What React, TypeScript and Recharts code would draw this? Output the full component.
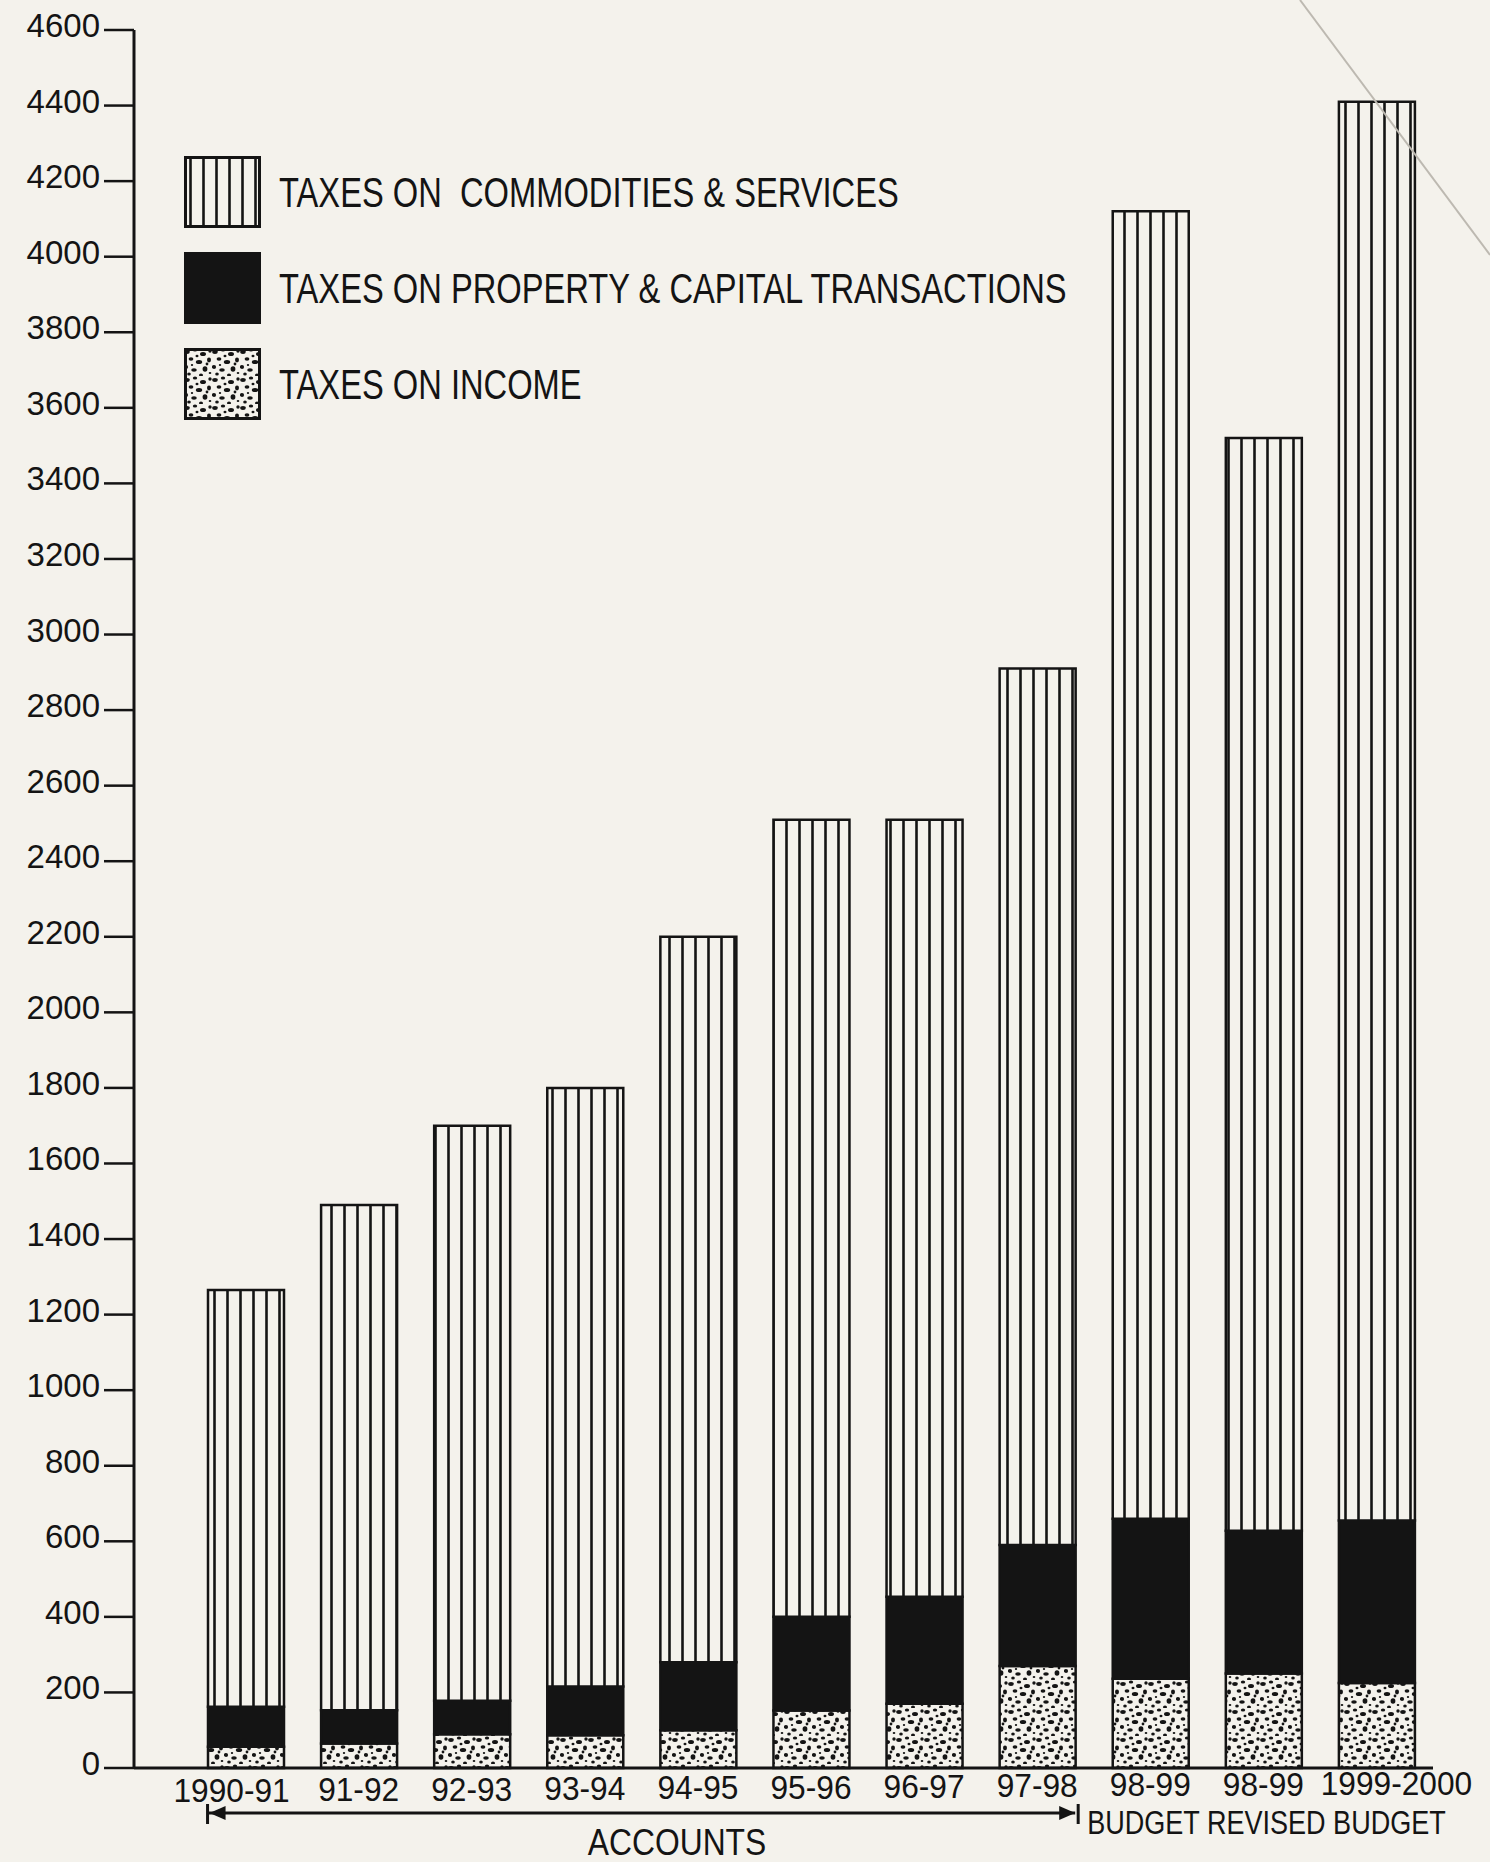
import { BarChart, Bar, XAxis, YAxis, Legend } from "recharts";

// Tax revenue by head (Rs. crore)
const categories = ["1990-91", "91-92", "92-93", "93-94", "94-95", "95-96", "96-97", "97-98", "98-99 BE", "98-99 RE", "1999-2000"];
const tickLabels = ["1990-91", "91-92", "92-93", "93-94", "94-95", "95-96", "96-97", "97-98", "98-99", "98-99", "1999-2000"];
const incomeTax = [56, 65, 89, 87, 100, 152, 170, 270, 236, 250, 225];
const propertyTax = [106, 88, 89, 129, 180, 248, 283, 320, 424, 378, 430];
const commodityTax = [1103, 1337, 1522, 1584, 1920, 2110, 2057, 2320, 3460, 2892, 3755];
const yTicks = [0, 200, 400, 600, 800, 1000, 1200, 1400, 1600, 1800, 2000, 2200, 2400, 2600, 2800, 3000, 3200, 3400, 3600, 3800, 4000, 4200, 4400, 4600];
const legendOrder = ["commodities", "property", "income"];

const data = categories.map((c, i) => ({
  key: c,
  income: incomeTax[i],
  property: propertyTax[i],
  commodities: commodityTax[i],
}));

const W = 1490;
const H = 1862;
const PAPER = "#f4f2ec";
const INK = "#141414";
const SANS = "'Liberation Sans', Arial, sans-serif";

// layout
const Y_AXIS_W = 134;
const MARGIN_RIGHT = 57;
const PAD_LEFT = 55;
const BAR_W = 76;
const band = (W - MARGIN_RIGHT - Y_AXIS_W - PAD_LEFT) / categories.length;
const barLeft = (i: number) => Y_AXIS_W + PAD_LEFT + band * i + (band - BAR_W) / 2;

const speckles = [
  [3, 4, 2.8, 1.9], [11, 2, 2.2, 1.6], [19, 6, 3.0, 2.0], [25, 12, 2.0, 2.4],
  [7, 11, 2.4, 1.8], [15, 14, 3.2, 2.0], [2, 19, 2.1, 1.9], [10, 22, 2.8, 1.7],
  [21, 21, 2.4, 2.8], [17, 27, 2.0, 1.5], [26, 3, 1.7, 1.7], [5, 26, 1.8, 1.5],
  [13, 8, 1.5, 1.2], [23, 16, 1.4, 1.4], [8, 17, 1.2, 1.0], [26, 25, 1.3, 1.1],
];

function LegendBox(props: any) {
  const items = [...(props.payload || [])].sort(
    (a: any, b: any) => legendOrder.indexOf(a.dataKey) - legendOrder.indexOf(b.dataKey)
  );
  return (
    <div style={{ display: "flex", flexDirection: "column", gap: 24 }}>
      {items.map((it: any) => (
        <div key={it.dataKey} style={{ display: "flex", alignItems: "center", height: 72 }}>
          <svg width={77} height={72}>
            <rect x={1.5} y={1.5} width={74} height={69} fill={it.color} stroke={INK} strokeWidth={3} />
          </svg>
          <span
            style={{
              marginLeft: 18,
              fontFamily: SANS,
              fontSize: 43,
              color: INK,
              whiteSpace: "pre",
              display: "inline-block",
              transform: "scaleX(0.76)",
              transformOrigin: "left center",
            }}
          >
            {it.value}
          </span>
        </div>
      ))}
    </div>
  );
}

function XTick(props: any) {
  const { x, y, payload } = props;
  const i = categories.indexOf(payload.value);
  const shift = i === 0 ? -14 : i === categories.length - 1 ? 20 : 0;
  // the scanned page is slightly tilted: labels climb a little toward the right
  const lift = i * 0.7;
  return (
    <text
      transform={`translate(${x + shift},${y + 26 - lift}) scale(0.96,1)`}
      textAnchor="middle"
      fontFamily={SANS}
      fontSize={33}
      fill={INK}
    >
      {tickLabels[i]}
    </text>
  );
}

function YTick(props: any) {
  const { x, y, payload } = props;
  return (
    <text x={x} y={y + 7} textAnchor="end" fontFamily={SANS} fontSize={33} fill={INK}>
      {payload.value}
    </text>
  );
}

export default function App() {
  const arrowY = 1813;
  const accLeft = barLeft(0);
  const accRight = barLeft(7) + BAR_W;
  return (
    <div style={{ position: "absolute", left: 0, top: 0, width: W, height: H, background: PAPER }}>
      <BarChart width={W} height={H} data={data} margin={{ top: 30, right: MARGIN_RIGHT, left: 0, bottom: 0 }}>
        <defs>
          <pattern id="stripes" patternUnits="userSpaceOnUse" width={13} height={10}>
            <rect width={13} height={10} fill={PAPER} />
            <line x1={6.5} y1={0} x2={6.5} y2={10} stroke={INK} strokeWidth={2.6} />
          </pattern>
          <pattern id="speckle" patternUnits="userSpaceOnUse" width={28} height={28}>
            <rect width={28} height={28} fill={PAPER} />
            {speckles.map(([cx, cy, rx, ry], i) => (
              <ellipse key={i} cx={cx} cy={cy} rx={rx} ry={ry} fill={INK} />
            ))}
          </pattern>
        </defs>

        <XAxis
          dataKey="key"
          height={94}
          padding={{ left: PAD_LEFT, right: 0 }}
          axisLine={{ stroke: INK, strokeWidth: 3 }}
          tickLine={false}
          interval={0}
          tick={<XTick />}
        />
        <YAxis
          width={Y_AXIS_W}
          domain={[0, 4600]}
          ticks={yTicks}
          interval={0}
          axisLine={{ stroke: INK, strokeWidth: 3 }}
          tickLine={{ stroke: INK, strokeWidth: 2.5 }}
          tickSize={30}
          tickMargin={4}
          tick={<YTick />}
        />

        <Legend
          layout="vertical"
          align="center"
          verticalAlign="middle"
          content={<LegendBox />}
          wrapperStyle={{ top: 156, left: 184, width: "auto" }}
        />

        <Bar dataKey="income" name="TAXES ON INCOME" stackId="t" barSize={BAR_W} fill="url(#speckle)" stroke={INK} strokeWidth={2.5} isAnimationActive={false} />
        <Bar dataKey="property" name="TAXES ON PROPERTY & CAPITAL TRANSACTIONS" stackId="t" barSize={BAR_W} fill={INK} stroke={INK} strokeWidth={2.5} isAnimationActive={false} />
        <Bar dataKey="commodities" name="TAXES ON  COMMODITIES & SERVICES" stackId="t" barSize={BAR_W} fill="url(#stripes)" stroke={INK} strokeWidth={2.5} isAnimationActive={false} />
      </BarChart>

      <svg width={W} height={H} style={{ position: "absolute", left: 0, top: 0, pointerEvents: "none" }}>
        {/* page fold */}
        <line x1={1300} y1={0} x2={1490} y2={255} stroke="#bdb9b1" strokeWidth={2} />
        {/* ACCOUNTS span */}
        <line x1={accLeft} y1={arrowY} x2={accRight} y2={arrowY} stroke={INK} strokeWidth={3} />
        <line x1={accLeft} y1={arrowY - 9} x2={accLeft} y2={arrowY + 11} stroke={INK} strokeWidth={3} />
        <path d={`M${accLeft + 2},${arrowY} L${accLeft + 18},${arrowY - 7} L${accLeft + 18},${arrowY + 7} Z`} fill={INK} />
        <line x1={accRight + 3} y1={arrowY - 9} x2={accRight + 3} y2={arrowY + 11} stroke={INK} strokeWidth={3} />
        <path d={`M${accRight},${arrowY} L${accRight - 16},${arrowY - 7} L${accRight - 16},${arrowY + 7} Z`} fill={INK} />
        <text
          transform="translate(677,1855) scale(0.86,1)"
          textAnchor="middle"
          fontFamily={SANS}
          fontSize={37}
          fill={INK}
        >
          ACCOUNTS
        </text>
        <text
          transform={`translate(${accRight + 12},1834) scale(0.82,1)`}
          fontFamily={SANS}
          fontSize={33}
          fill={INK}
        >
          BUDGET REVISED BUDGET
        </text>
      </svg>
    </div>
  );
}
